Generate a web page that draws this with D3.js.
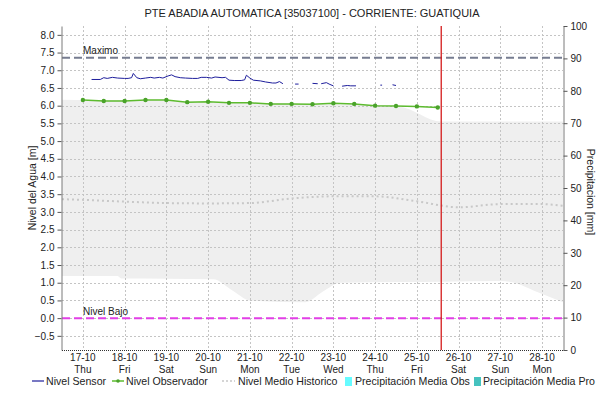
<!DOCTYPE html>
<html>
<head>
<meta charset="utf-8">
<script src="https://cdn.jsdelivr.net/npm/d3@7"></script>
<style>
  body { margin: 0; background: #fff; }
  svg { display: block; font-family: "Liberation Sans", Arial, sans-serif; }
</style>
</head>
<body>
<svg id="chart" width="597" height="402"></svg>
<script>
// ---- data -------------------------------------------------------------
const title = "PTE ABADIA AUTOMATICA [35037100] - CORRIENTE: GUATIQUIA";
const year = "2019";

const levelTicks = [-0.5, 0.0, 0.5, 1.0, 1.5, 2.0, 2.5, 3.0, 3.5, 4.0, 4.5, 5.0, 5.5, 6.0, 6.5, 7.0, 7.5, 8.0];
const rainTicks = [0, 10, 20, 30, 40, 50, 60, 70, 80, 90, 100];
const dayTicks = ["10-17", "10-18", "10-19", "10-20", "10-21", "10-22", "10-23", "10-24", "10-25", "10-26", "10-27", "10-28"];

// Nivel Sensor (hourly-ish, null = no transmission)
const sensor = [
  ["10-17 05:00", 6.74], ["10-17 10:00", 6.74], ["10-17 12:00", 6.79], ["10-17 14:00", 6.77],
  ["10-17 17:00", 6.80], ["10-17 20:00", 6.78], ["10-18 00:00", 6.77], ["10-18 02:00", 6.77],
  ["10-18 04:00", 6.79], ["10-18 05:00", 6.91], ["10-18 07:00", 6.79], ["10-18 09:00", 6.76],
  ["10-18 12:00", 6.78], ["10-18 15:00", 6.80], ["10-18 17:00", 6.78], ["10-18 20:00", 6.80],
  ["10-18 22:00", 6.78], ["10-19 01:00", 6.84], ["10-19 03:00", 6.87], ["10-19 05:00", 6.82],
  ["10-19 08:00", 6.79], ["10-19 11:00", 6.78], ["10-19 15:00", 6.77], ["10-19 18:00", 6.77],
  ["10-19 20:00", 6.80], ["10-19 23:00", 6.80], ["10-20 02:00", 6.78], ["10-20 04:00", 6.81],
  ["10-20 08:00", 6.79], ["10-20 10:00", 6.80], ["10-20 12:00", 6.72], ["10-20 15:00", 6.71],
  ["10-20 19:00", 6.71], ["10-20 21:00", 6.73], ["10-20 22:00", 6.86], ["10-21 00:00", 6.78],
  ["10-21 02:00", 6.72], ["10-21 06:00", 6.70], ["10-21 09:00", 6.67], ["10-21 13:00", 6.64],
  ["10-21 15:00", 6.64], ["10-21 17:00", 6.68], ["10-21 19:00", 6.62], ["10-21 20:00", null],
  ["10-22 02:00", 6.61], ["10-22 04:00", 6.61], ["10-22 05:00", null],
  ["10-22 12:00", 6.63], ["10-22 15:00", 6.62], ["10-22 16:00", null],
  ["10-22 17:00", 6.62], ["10-22 20:00", 6.65], ["10-22 22:00", 6.60], ["10-23 00:00", 6.56], ["10-23 02:00", null],
  ["10-23 05:00", 6.55], ["10-23 08:00", 6.57], ["10-23 10:00", 6.56], ["10-23 13:00", 6.56], ["10-23 14:00", null],
  ["10-24 03:00", 6.58], ["10-24 04:00", 6.58], ["10-24 05:00", null],
  ["10-24 10:00", 6.59], ["10-24 12:00", 6.57]
];

// Nivel Observador (readings every 12 h)
const observerTimes = ["10-17 00:00", "10-17 12:00", "10-18 00:00", "10-18 12:00", "10-19 00:00", "10-19 12:00",
  "10-20 00:00", "10-20 12:00", "10-21 00:00", "10-21 12:00", "10-22 00:00", "10-22 12:00",
  "10-23 00:00", "10-23 12:00", "10-24 00:00", "10-24 12:00", "10-25 00:00", "10-25 12:00"];
const observerValues = [6.16, 6.13, 6.13, 6.16, 6.16, 6.10, 6.11, 6.08, 6.08, 6.05, 6.05, 6.04,
  6.07, 6.05, 6.00, 5.99, 5.98, 5.95];

// Nivel Medio Historico
const meanTimes = ["10-16 12:00", "10-17 00:00", "10-18 00:00", "10-19 00:00", "10-20 00:00", "10-21 00:00",
  "10-22 00:00", "10-23 00:00", "10-24 00:00", "10-25 00:00", "10-26 00:00", "10-27 00:00", "10-28 00:00", "10-28 12:00"];
const meanValues = [3.36, 3.34, 3.29, 3.25, 3.24, 3.25, 3.38, 3.44, 3.44, 3.30, 3.13, 3.22, 3.22, 3.17];

// historical range band (upper / lower envelope)
const bandTimes = ["10-16 12:00", "10-17 20:00", "10-17 22:00", "10-20 03:00", "10-20 14:00", "10-21 00:00",
  "10-22 08:00", "10-22 18:00", "10-23 04:00", "10-24 14:00", "10-25 14:00", "10-27 00:00",
  "10-27 06:00", "10-27 23:00", "10-28 12:00"];
const bandUpper = [6.17, 6.15, 6.15, 6.10, 6.09, 6.08, 6.05, 6.04, 6.03, 5.97, 5.55, 5.55, 5.55, 5.55, 5.55];
const bandLower = [1.19, 1.19, 1.12, 1.10, 0.78, 0.50, 0.45, 0.75, 1.00, 1.02, 1.03, 1.05, 1.02, 0.70, 0.45];

const maximo = 7.35;
const nivelBajo = 0.0;
const nowStamp = "10-25 14:00";
const domainStart = "10-16 12:00", domainEnd = "10-28 12:00";

// ---- setup ------------------------------------------------------------
const parse = s => d3.timeParse("%Y-%m-%d %H:%M")(year + "-" + (s.length === 5 ? s + " 00:00" : s));
const svg = d3.select("#chart");
const m = { left: 62, right: 563, top: 26, bottom: 350 };

const x = d3.scaleTime().domain([parse(domainStart), parse(domainEnd)]).range([m.left, m.right]);
const y = d3.scaleLinear().domain([-0.9, 8.25]).range([m.bottom, m.top]);
const yR = d3.scaleLinear().domain([0, 100]).range([m.bottom, m.top]);

svg.append("defs").append("clipPath").attr("id", "plot")
  .append("rect").attr("x", m.left).attr("y", m.top)
  .attr("width", m.right - m.left).attr("height", m.bottom - m.top);

// title
svg.append("text").attr("x", 312).attr("y", 17).attr("text-anchor", "middle")
  .attr("font-size", 11).attr("fill", "#222").text(title);

const plot = svg.append("g").attr("clip-path", "url(#plot)");

// band
const band = bandTimes.map((t, i) => ({ t: parse(t), hi: bandUpper[i], lo: bandLower[i] }));
plot.append("path").datum(band)
  .attr("fill", "#efefef")
  .attr("d", d3.area().curve(d3.curveMonotoneX).x(d => x(d.t)).y0(d => y(d.lo)).y1(d => y(d.hi)));

// grid
const gridColor = "#c4c4c4";
plot.append("g").selectAll("line").data(levelTicks).join("line")
  .attr("x1", m.left).attr("x2", m.right)
  .attr("y1", d => Math.round(y(d)) + 0.5).attr("y2", d => Math.round(y(d)) + 0.5)
  .attr("stroke", gridColor).attr("stroke-dasharray", "2,2");
plot.append("g").selectAll("line").data(dayTicks).join("line")
  .attr("x1", d => Math.round(x(parse(d))) + 0.5).attr("x2", d => Math.round(x(parse(d))) + 0.5)
  .attr("y1", m.top).attr("y2", m.bottom)
  .attr("stroke", gridColor).attr("stroke-dasharray", "2,2");

// historical mean
const mean = meanTimes.map((t, i) => ({ t: parse(t), v: meanValues[i] }));
plot.append("path").datum(mean)
  .attr("fill", "none").attr("stroke", "#c8c8c8").attr("stroke-width", 2)
  .attr("stroke-dasharray", "2,3")
  .attr("d", d3.line().curve(d3.curveMonotoneX).x(d => x(d.t)).y(d => y(d.v)));

// reference lines
plot.append("line").attr("x1", m.left).attr("x2", m.right)
  .attr("y1", y(maximo)).attr("y2", y(maximo))
  .attr("stroke", "#767c90").attr("stroke-width", 2).attr("stroke-dasharray", "8,4");
plot.append("line").attr("x1", m.left).attr("x2", m.right)
  .attr("y1", y(nivelBajo)).attr("y2", y(nivelBajo))
  .attr("stroke", "#e23fe6").attr("stroke-width", 2).attr("stroke-dasharray", "8,4");
svg.append("text").attr("x", 83).attr("y", y(maximo) - 4).attr("font-size", 10).attr("fill", "#222").text("Maximo");
svg.append("text").attr("x", 83).attr("y", y(nivelBajo) - 3).attr("font-size", 10).attr("fill", "#222").text("Nivel Bajo");

// sensor
plot.append("path").datum(sensor.map(d => ({ t: parse(d[0]), v: d[1] })))
  .attr("fill", "none").attr("stroke", "#1e1e9c").attr("stroke-width", 1)
  .attr("d", d3.line().defined(d => d.v !== null).x(d => x(d.t)).y(d => y(d.v)));

// observer
const obs = observerTimes.map((t, i) => ({ t: parse(t), v: observerValues[i] }));
plot.append("path").datum(obs)
  .attr("fill", "none").attr("stroke", "#5dbb2f").attr("stroke-width", 1.5)
  .attr("d", d3.line().x(d => x(d.t)).y(d => y(d.v)));
plot.append("g").selectAll("circle").data(obs).join("circle")
  .attr("cx", d => x(d.t)).attr("cy", d => y(d.v)).attr("r", 2.2)
  .attr("fill", "#4aa32a");

// current time marker
plot.append("line")
  .attr("x1", x(parse(nowStamp))).attr("x2", x(parse(nowStamp)))
  .attr("y1", m.top).attr("y2", m.bottom)
  .attr("stroke", "#d41c1c").attr("stroke-width", 1.3);

// ---- axes -------------------------------------------------------------
const axL = svg.append("g").attr("transform", `translate(${m.left - 0.5},0)`)
  .call(d3.axisLeft(y).tickValues(levelTicks).tickFormat(d3.format(".1f")).tickSize(4).tickSizeOuter(0));
const axR = svg.append("g").attr("transform", `translate(${m.right + 0.5},0)`)
  .call(d3.axisRight(yR).tickValues(rainTicks).tickSize(4).tickSizeOuter(0));
[axL, axR].forEach(a => {
  a.select(".domain").attr("stroke", "#7a7a7a");
  a.selectAll(".tick line").attr("stroke", "#555");
  a.selectAll("text").attr("font-size", 10).attr("fill", "#222")
    .attr("font-family", "'Liberation Sans', Arial, sans-serif");
});

// bottom axis: dotted baseline with two-line date labels
svg.append("line").attr("x1", m.left).attr("x2", m.right)
  .attr("y1", m.bottom + 0.5).attr("y2", m.bottom + 0.5)
  .attr("stroke", "#333").attr("stroke-dasharray", "1,1");
const fmtDay = d3.timeFormat("%d-%m"), fmtWd = d3.timeFormat("%a");
const xl = svg.append("g").attr("font-size", 10).attr("fill", "#222").attr("text-anchor", "middle");
xl.selectAll("text.d").data(dayTicks).join("text").attr("class", "d")
  .attr("x", d => x(parse(d))).attr("y", 361).text(d => fmtDay(parse(d)));
xl.selectAll("text.w").data(dayTicks).join("text").attr("class", "w")
  .attr("x", d => x(parse(d))).attr("y", 373).text(d => fmtWd(parse(d)));

// axis titles
svg.append("text").attr("transform", "translate(36,188) rotate(-90)")
  .attr("text-anchor", "middle").attr("font-size", 10.5).attr("fill", "#222").text("Nivel del Agua [m]");
svg.append("text").attr("transform", "translate(587,192) rotate(90)")
  .attr("text-anchor", "middle").attr("font-size", 10.5).attr("fill", "#222").text("Precipitacion [mm]");

// ---- legend -----------------------------------------------------------
const lg = svg.append("g").attr("font-size", 10.6).attr("fill", "#222");
const ly = 381;
lg.append("line").attr("x1", 32).attr("x2", 44).attr("y1", ly).attr("y2", ly).attr("stroke", "#1e1e9c").attr("stroke-width", 1.2);
lg.append("text").attr("x", 46).attr("y", ly + 4).text("Nivel Sensor");
lg.append("line").attr("x1", 112).attr("x2", 124).attr("y1", ly).attr("y2", ly).attr("stroke", "#5dbb2f").attr("stroke-width", 1.5);
lg.append("circle").attr("cx", 118).attr("cy", ly).attr("r", 1.8).attr("fill", "#4aa32a");
lg.append("text").attr("x", 126).attr("y", ly + 4).text("Nivel Observador");
lg.append("line").attr("x1", 222).attr("x2", 235).attr("y1", ly).attr("y2", ly).attr("stroke", "#c8c8c8").attr("stroke-width", 1.5).attr("stroke-dasharray", "2,2");
lg.append("text").attr("x", 238).attr("y", ly + 4).text("Nivel Medio Historico");
lg.append("rect").attr("x", 345).attr("y", ly - 4).attr("width", 7).attr("height", 9).attr("fill", "#66fbff");
lg.append("text").attr("x", 355).attr("y", ly + 4).text("Precipitación Media Obs");
lg.append("rect").attr("x", 474).attr("y", ly - 4).attr("width", 7).attr("height", 9).attr("fill", "#45c2bf");
lg.append("text").attr("x", 483).attr("y", ly + 4).text("Precipitación Media Pro");
</script>
</body>
</html>
